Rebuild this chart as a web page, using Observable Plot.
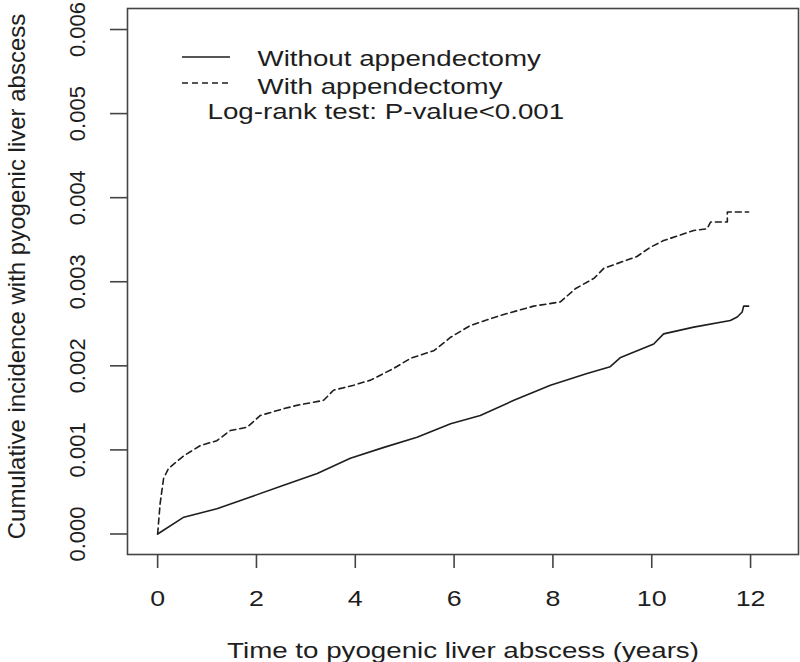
<!DOCTYPE html>
<html><head><meta charset="utf-8">
<script src="https://cdn.jsdelivr.net/npm/d3@7"></script>
<script src="https://cdn.jsdelivr.net/npm/@observablehq/plot@0.6"></script>
<style>
body{margin:0;background:#fff;}
#chart svg{font-family:"Liberation Sans", Arial, Helvetica, sans-serif;}
</style>
</head><body><div id="chart"></div>
<script>
// Without appendectomy (solid)
const timeWithout = [0, 0.53, 1.2, 1.88, 2.55, 3.23, 3.9, 4.58, 5.25, 5.93, 6.53, 7.21, 7.95, 8.69, 9.16, 9.37, 10.04, 10.24, 10.85, 11.59, 11.73, 11.83, 11.86, 11.96];
const cumWithout = [0, 0.00020, 0.00030, 0.00044, 0.00058, 0.00072, 0.00090, 0.00103, 0.00115, 0.00131, 0.00141, 0.00159, 0.00177, 0.00191, 0.00199, 0.00210, 0.00226, 0.00238, 0.00246, 0.00254, 0.00258, 0.00264, 0.00271, 0.00271];
// With appendectomy (dashed)
const timeWith = [0, 0.05, 0.12, 0.22, 0.53, 0.86, 1.2, 1.47, 1.81, 2.08, 2.55, 2.82, 3.36, 3.56, 3.97, 4.31, 4.78, 5.12, 5.59, 5.93, 6.33, 6.94, 7.61, 8.15, 8.46, 8.83, 9.03, 9.70, 9.97, 10.24, 10.85, 11.12, 11.19, 11.53, 11.53, 11.96];
const cumWith = [0, 0.00036, 0.00066, 0.00078, 0.00093, 0.00105, 0.00111, 0.00123, 0.00127, 0.00141, 0.00149, 0.00153, 0.00159, 0.00171, 0.00177, 0.00183, 0.00197, 0.00209, 0.00218, 0.00234, 0.00248, 0.00260, 0.00271, 0.00276, 0.00292, 0.00304, 0.00316, 0.00330, 0.00341, 0.00349, 0.00361, 0.00363, 0.00371, 0.00371, 0.00383, 0.00383];

const xTicks = [0, 2, 4, 6, 8, 10, 12];
const yTicks = [0, 0.001, 0.002, 0.003, 0.004, 0.005, 0.006];
const xTitle = "Time to pyogenic liver abscess (years)";
const yTitle = "Cumulative incidence with pyogenic liver abscess";
const legendLabels = ["Without appendectomy", "With appendectomy"];
const testLabel = "Log-rank test: P-value<0.001";

const withoutData = timeWithout.map((t, i) => ({t, v: cumWithout[i]}));
const withData = timeWith.map((t, i) => ({t, v: cumWith[i]}));

const ink = "#1e1e1e";
const plot = Plot.plot({
  width: 800,
  height: 662,
  marginLeft: 127,
  marginRight: 2,
  marginTop: 8,
  marginBottom: 108,
  x: {domain: [-0.61, 12.97]},
  y: {domain: [-0.000244, 0.00625]},
  style: {fontSize: "22px", color: ink, background: "#fff"},
  marks: [
    Plot.frame({stroke: "#444", strokeWidth: 1.6}),
    Plot.axisX(xTicks, {tickSize: 14, tickPadding: 22, label: null, stroke: "#444", strokeWidth: 1.6, fontSize: 22, className: "xtick"}),
    Plot.axisY(yTicks, {tickSize: 17, tickPadding: 26, tickRotate: -90, tickFormat: d3.format(".3f"), label: null, stroke: "#444", strokeWidth: 1.6, fontSize: 22}),
    Plot.text([xTitle], {frameAnchor: "bottom", dy: 96, lineAnchor: "middle", text: d => d, fontSize: 22, className: "stretchme"}),
    Plot.text([yTitle], {frameAnchor: "left", dx: -103, dy: -5, rotate: -90, textAnchor: "middle", lineAnchor: "bottom", text: d => d, fontSize: 24}),
    Plot.line(withoutData, {x: "t", y: "v", stroke: ink, strokeWidth: 1.6}),
    Plot.line(withData, {x: "t", y: "v", stroke: ink, strokeWidth: 1.6, strokeDasharray: "6,4"}),
    Plot.text([legendLabels[0]], {frameAnchor: "top-left", dx: 130, dy: 57, lineAnchor: "bottom", textAnchor: "start", text: d => d, fontSize: 22, className: "stretchme"}),
    Plot.text([legendLabels[1]], {frameAnchor: "top-left", dx: 130, dy: 85, lineAnchor: "bottom", textAnchor: "start", text: d => d, fontSize: 22, className: "stretchme"}),
    Plot.text([testLabel], {frameAnchor: "top-left", dx: 80, dy: 110, lineAnchor: "bottom", textAnchor: "start", text: d => d, fontSize: 22, className: "stretchme"})
  ]
});
document.getElementById("chart").appendChild(plot);

// legend line samples
const svg = d3.select(plot);
const lg = svg.append("g").attr("aria-label", "legend-keys").attr("stroke", ink).attr("stroke-width", 1.6);
lg.append("line").attr("x1", 182).attr("x2", 230).attr("y1", 57).attr("y2", 57);
lg.append("line").attr("x1", 182).attr("x2", 230).attr("y1", 83).attr("y2", 83).attr("stroke-dasharray", "6,4");

// horizontal stretch of the horizontal texts (the reference is wider than tall)
function stretch(nodes, k) {
  nodes.forEach(function(node) {
    const L = node.getComputedTextLength();
    if (!L) return;
    node.setAttribute("textLength", (L * k).toFixed(1));
    node.setAttribute("lengthAdjust", "spacingAndGlyphs");
  });
}
stretch(Array.from(plot.querySelectorAll(".stretchme text, text.stretchme")), 1.26);
stretch(Array.from(plot.querySelectorAll('g[aria-label="x-axis tick label"] text, .xtick text')), 1.22);
</script>
</body></html>
